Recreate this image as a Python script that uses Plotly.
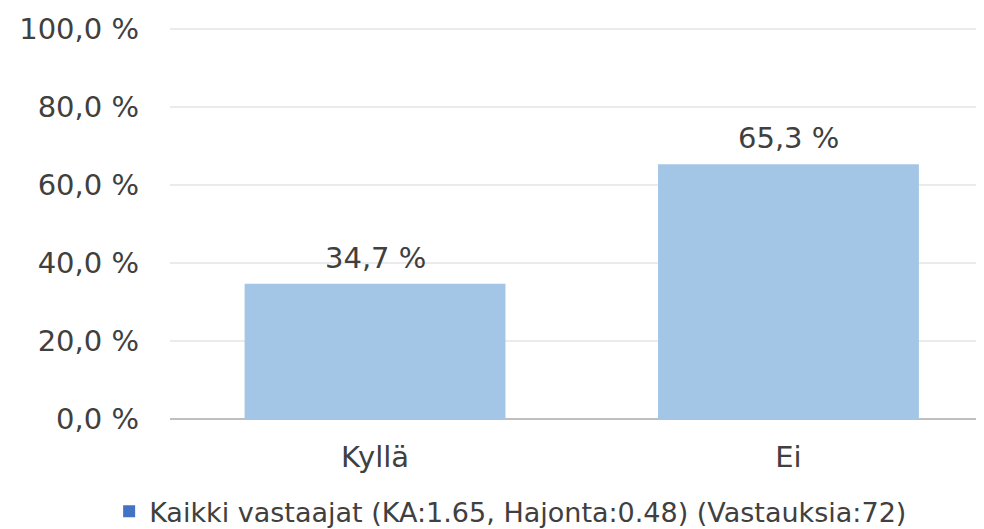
import plotly.graph_objects as go

categories = ["Kyllä", "Ei"]
values = [34.7, 65.3]
value_labels = ["34,7 %", "65,3 %"]
y_ticks = [0, 20, 40, 60, 80, 100]
y_tick_labels = ["0,0 %", "20,0 %", "40,0 %", "60,0 %", "80,0 %", "100,0 %"]
legend_name = "Kaikki vastaajat (KA:1.65, Hajonta:0.48) (Vastauksia:72)"

FONT = "DejaVu Sans"
TXT = "#404040"

fig = go.Figure()
fig.add_trace(go.Bar(
    x=categories, y=values, width=0.631,
    marker=dict(color="#A3C6E6", line=dict(width=0)),
    showlegend=False, hoverinfo="skip",
))
fig.add_trace(go.Scatter(
    x=[None], y=[None], mode="markers", name=legend_name,
    marker=dict(symbol="square", size=12, color="#4472C4"),
))

for c, v, t in zip(categories, values, value_labels):
    fig.add_annotation(x=c, y=v, text=t, showarrow=False, yanchor="middle",
                       yshift=26, font=dict(family=FONT, size=29, color=TXT))

fig.update_layout(
    width=976, height=521,
    margin=dict(l=162, r=0, t=17, b=110),
    plot_bgcolor="white", paper_bgcolor="white",
    font=dict(family=FONT, color=TXT),
    showlegend=True,
    legend=dict(orientation="h", xref="container", yref="container",
                x=0.515, xanchor="center", y=0.033, yanchor="middle",
                font=dict(family=FONT, size=27, color=TXT),
                itemwidth=30, tracegroupgap=0),
    xaxis=dict(type="category", range=[-0.496, 1.473], showgrid=False,
               showline=False, zeroline=False, ticks="",
               tickfont=dict(family=FONT, size=29, color=TXT),
               ticklabelstandoff=18),
    yaxis=dict(range=[0, 101], tickvals=y_ticks, ticktext=y_tick_labels,
               showgrid=True, gridcolor="#EBEBEB", gridwidth=1.5,
               zeroline=True, zerolinecolor="#BFBFBF", zerolinewidth=2,
               showline=False, ticks="",
               tickfont=dict(family=FONT, size=29, color=TXT),
               ticklabelstandoff=30),
)

fig.write_html("out.html")
